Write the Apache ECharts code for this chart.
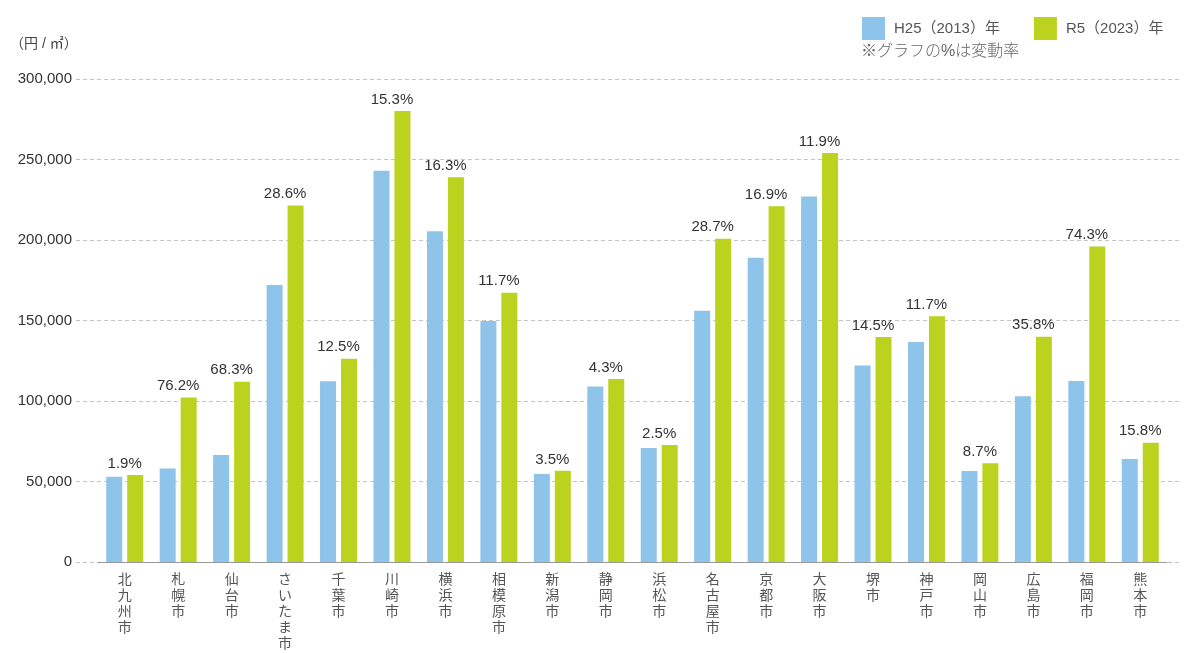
<!DOCTYPE html>
<html>
<head>
<meta charset="utf-8">
<script src="https://cdn.jsdelivr.net/npm/echarts@6/dist/echarts.min.js"></script>
<style>
html,body{margin:0;padding:0;background:#fff;}
#chart{width:1184px;height:653px;}
</style>
</head>
<body>
<div id="chart"></div>
<script>
const categories = ['北九州市','札幌市','仙台市','さいたま市','千葉市','川崎市','横浜市','相模原市','新潟市','静岡市','浜松市','名古屋市','京都市','大阪市','堺市','神戸市','岡山市','広島市','福岡市','熊本市'];
const h25Values = [53000, 58000, 66500, 172000, 112300, 243000, 205500, 149700, 54700, 109000, 70800, 156000, 189000, 227000, 122000, 136600, 56500, 103000, 112400, 64000];
const r5Values  = [54000, 102200, 112000, 221500, 126300, 280200, 239000, 167200, 56600, 113700, 72600, 200800, 221000, 254000, 139700, 152600, 61400, 139900, 195900, 74100];
const pctLabels = ['1.9%','76.2%','68.3%','28.6%','12.5%','15.3%','16.3%','11.7%','3.5%','4.3%','2.5%','28.7%','16.9%','11.9%','14.5%','11.7%','8.7%','35.8%','74.3%','15.8%'];
const seriesNames = ['H25（2013）年','R5（2023）年'];
const yTicks = {min: 0, max: 300000, interval: 50000};

const chart = echarts.init(document.getElementById('chart'));
const fmt = v => String(v).replace(/\B(?=(\d{3})+(?!\d))/g, ',');
const font = "'Liberation Sans', 'Noto Sans CJK JP', sans-serif";

chart.setOption({
  animation: false,
  backgroundColor: '#fff',
  textStyle: {fontFamily: font},
  legend: {
    top: 12, left: 857,
    itemWidth: 23, itemHeight: 23, itemGap: 34,
    icon: 'rect',
    textStyle: {fontSize: 15, color: '#555', fontFamily: font, padding: [0, 0, 0, 4]},
    data: seriesNames
  },
  graphic: [
    {type: 'text', left: 861, top: 44, style: {text: '※グラフの%は変動率', fontSize: 16, fill: '#666', fontFamily: font, fontWeight: 300}},
    {type: 'text', left: 10, top: 37, style: {text: '（円 / ㎡）', fontSize: 14, fill: '#444', fontFamily: font}}
  ],
  grid: [
    {left: 98, right: 17, top: 79, bottom: 91},
    {left: 76, right: 4, top: 79, bottom: 91}
  ],
  xAxis: [
    {
      type: 'category', gridIndex: 0, data: categories,
      axisLine: {show: true, lineStyle: {color: '#999', width: 1}},
      axisTick: {show: false},
      axisLabel: {
        interval: 0, margin: 10, color: '#555', fontSize: 14, lineHeight: 16,
        verticalAlign: 'top',
        formatter: v => v.split('').join('\n')
      }
    },
    {type: 'value', gridIndex: 1, min: 0, max: 1, show: false}
  ],
  yAxis: [
    {type: 'value', gridIndex: 0, min: yTicks.min, max: yTicks.max, interval: yTicks.interval, show: false, splitLine: {show: false}},
    {
      type: 'value', gridIndex: 1, min: yTicks.min, max: yTicks.max, interval: yTicks.interval,
      axisLine: {show: false}, axisTick: {show: false},
      axisLabel: {color: '#333', fontSize: 15, margin: 4, formatter: fmt},
      splitLine: {show: true, lineStyle: {color: '#c4c4c4', type: [4, 3], width: 1}}
    }
  ],
  series: [
    {
      name: seriesNames[0], type: 'bar', xAxisIndex: 0, yAxisIndex: 0,
      data: h25Values, barWidth: 16, barGap: '31%',
      itemStyle: {color: '#8ec4ea'}
    },
    {
      name: seriesNames[1], type: 'bar', xAxisIndex: 0, yAxisIndex: 0,
      data: r5Values, barWidth: 16,
      itemStyle: {color: '#bbd21e'},
      label: {
        show: true, position: 'top', distance: 4, offset: [-10.5, 0],
        color: '#333', fontSize: 15, fontFamily: font,
        formatter: p => pctLabels[p.dataIndex]
      }
    }
  ]
});
</script>
</body>
</html>
